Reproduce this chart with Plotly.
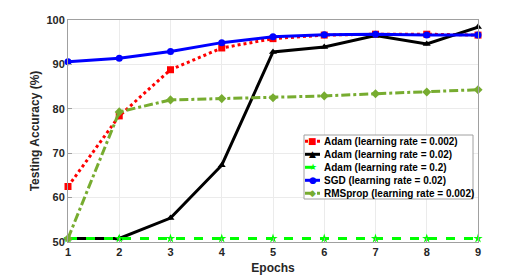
import plotly.graph_objects as go

epochs = [1, 2, 3, 4, 5, 6, 7, 8, 9]
adam_0002 = [62.5, 78.4, 88.8, 93.7, 95.8, 96.6, 96.8, 96.8, 96.6]
adam_002 = [50.8, 50.8, 55.4, 67.3, 92.8, 93.9, 96.5, 94.6, 98.4]
adam_02 = [50.8, 50.8, 50.8, 50.8, 50.8, 50.8, 50.8, 50.8, 50.8]
sgd_002 = [90.6, 91.4, 92.9, 94.9, 96.2, 96.7, 96.8, 96.6, 96.6]
rmsprop_0002 = [50.8, 79.3, 82.0, 82.3, 82.5, 82.9, 83.4, 83.8, 84.3]

names = ["Adam (learning rate = 0.002)", "Adam (learning rate = 0.02)",
         "Adam (learning rate = 0.2)", "SGD (learning rate = 0.02)",
         "RMSprop (learning rate = 0.002)"]
values = [adam_0002, adam_002, adam_02, sgd_002, rmsprop_0002]
colors = ["#ff0000", "#000000", "#00ff00", "#0000ff", "#77ac30"]
dashes = ["dot", "solid", "dash", "solid", "dashdot"]
symbols = ["square", "triangle-up", "star", "circle", "diamond"]
glyphs = ["■", "▲", "★", "●", "◆"]

fig = go.Figure()
for name, vals, col, dash, sym in zip(names, values, colors, dashes, symbols):
    fig.add_trace(go.Scatter(
        x=epochs, y=vals, name=name, mode="lines+markers",
        line=dict(color=col, width=3, dash=dash),
        marker=dict(color=col, symbol=sym, size=7),
        cliponaxis=False, showlegend=False,
    ))

# custom compact legend (paper coordinates)
L, R, T, B = 68, 478, 20, 242
def px(x):
    return (x - L) / (R - L)
def py(y):
    return (B - y) / (B - T)

fig.add_shape(type="rect", xref="paper", yref="paper",
              x0=px(304), x1=px(473), y0=py(199), y1=py(135),
              line=dict(color="#a0a0a0", width=1), fillcolor="white", layer="above")
for i, (name, col, dash, g) in enumerate(zip(names, colors, dashes, glyphs)):
    yc = 141.3 + i * 13
    fig.add_shape(type="line", xref="paper", yref="paper",
                  x0=px(305), x1=px(320), y0=py(yc), y1=py(yc),
                  line=dict(color=col, width=3, dash=dash), layer="above")
    fig.add_annotation(xref="paper", yref="paper", x=px(312.5), y=py(yc),
                       text=g, showarrow=False, xanchor="center", yanchor="middle",
                       font=dict(family="DejaVu Sans", size=9, color=col))
    fig.add_annotation(xref="paper", yref="paper", x=px(322), y=py(yc),
                       text=name, showarrow=False, xanchor="left", yanchor="middle",
                       font=dict(family="Liberation Sans, Arial, sans-serif", size=10,
                                 color="#000000", weight="bold"))

font = dict(family="Liberation Sans, Arial, sans-serif", size=11, color="#262626", weight="bold")
fig.update_layout(
    width=528, height=275,
    margin=dict(l=68, r=50, t=20, b=33),
    paper_bgcolor="white", plot_bgcolor="white",
    font=font,
    showlegend=False,
    xaxis=dict(
        range=[1, 9], tickvals=epochs, showgrid=True, gridcolor="#ebebeb",
        showline=True, linecolor="#a0a0a0", linewidth=1, mirror=True,
        ticks="inside", ticklen=4, tickcolor="#a0a0a0", zeroline=False,
        automargin=False,
        title=dict(text="Epochs", standoff=6, font=dict(size=12, weight="bold")),
    ),
    yaxis=dict(
        range=[50, 100], tickvals=[50, 60, 70, 80, 90, 100], showgrid=True, gridcolor="#ebebeb",
        showline=True, linecolor="#a0a0a0", linewidth=1, mirror=True,
        ticks="inside", ticklen=4, tickcolor="#a0a0a0", zeroline=False,
        automargin=False,
        title=dict(text="Testing Accuracy (%)", standoff=4, font=dict(size=12, weight="bold")),
    ),
)
fig.write_html("out.html", config={"displayModeBar": False},
               post_script="document.body.style.margin='0';document.body.style.overflow='hidden';")
